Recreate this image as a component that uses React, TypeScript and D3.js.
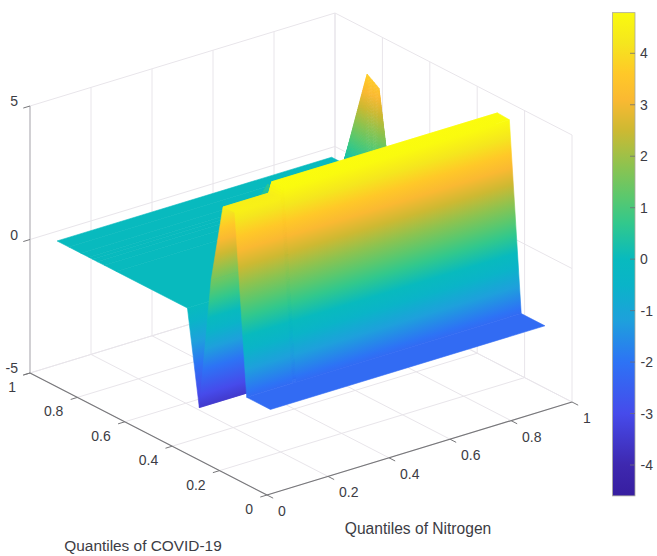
import React from "react";
import * as d3 from "d3";

const W = 657;
const H = 556;

// Surface sampled on these quantiles
const nitrogenNodes = [0.05, 0.2, 0.21, 0.6, 0.637, 0.68, 0.945, 0.95];
const covidNodes = [0.05, 0.15, 0.2, 0.25, 0.3, 0.35, 0.4, 0.7, 0.75, 0.78, 0.8, 0.816, 0.85, 0.9, 0.95];
const surfaceZ = [
  [-2.2, -2.2, -2.2, -2.2, -2.2, -2.2, -2.2, -2.2],
  [-2.2, -2.2, -2.2, -2.2, -2.2, -2.2, -2.2, -2.2],
  [4.5, 4.5, 4.83, 4.83, 4.83, 4.83, 4.83, 4.83],
  [4.47, 4.47, 4.86, 4.86, 4.86, 4.86, 4.86, 4.86],
  [1.5, 1.5, 1.2, 1.2, 1.2, 1.2, 1.2, 1.2],
  [-3.5, -3.5, -3.5, -3.5, -3.5, -3.5, -3.5, -3.5],
  [0, 0, 0, 0, 0, 0, 0, 0],
  [0, 0, 0, 0, 0, 0, 0, 0],
  [0, 0, 0, 0, 0, 0, 0, 3.5],
  [0, 0, 0, 0, 0, 0, 0, 3.68],
  [0, 0, 0, 0, 0, 0, 0, 3.8],
  [0, 0, 0, 0, 0.7, 0, 0, 3.2],
  [0, 0, 0, 0, 0, 0, 0, 1.9],
  [0, 0, 0, 0, 0, 0, 0, 0],
  [0, 0, 0, 0, 0, 0, 0, 0],
];

const horizontalTicks = [0, 0.2, 0.4, 0.6, 0.8, 1];
const zTicks = [-5, 0, 5];
const colorbarTicks = [4, 3, 2, 1, 0, -1, -2, -3, -4];
const colorbarRange = [-4.6, 4.79];
const colorStopValues = [-4.6, -4, -3, -2, -1.2, -0.5, 0, 0.7, 1.2, 1.8, 2.5, 3.1, 3.6, 4.2, 4.8];
const colorStops = [
  "#371ea0", "#3e28af", "#464beb", "#2d73f5", "#1ea0dc", "#0ab4c8", "#08babe", "#32c88c",
  "#5ac86e", "#8cc350", "#cdb932", "#fab932", "#ffc828", "#f5e61e", "#fafa0f",
];

const color = d3.scaleLinear<string>().domain(colorStopValues).range(colorStops).interpolate(d3.interpolateRgb);

// Axonometric projection
const pxX = d3.scaleLinear().domain([0, 1]).range([0, 305]);
const pxY = d3.scaleLinear().domain([0, 1]).range([0, -237]);
const pyX = d3.scaleLinear().domain([0, 1]).range([0, -93]);
const pyY = d3.scaleLinear().domain([0, 1]).range([0, -122]);
const pyZ = d3.scaleLinear().domain([-5, 5]).range([0, -267]);
const ORIGIN = [267, 495];
const project = (x: number, y: number, z: number): [number, number] => [
  ORIGIN[0] + pxX(x) + pxY(y),
  ORIGIN[1] + pyX(x) + pyY(y) + pyZ(z),
];
const barY = d3.scaleLinear().domain([-4, 4]).range([465, 53.3]);

type Gradient = { id: string; x1: number; y1: number; x2: number; y2: number; stops: { offset: number; color: string }[] };
type Poly = { pts: string; fill: string };

function buildSurface(): { polys: Poly[]; gradients: Gradient[] } {
  const polys: Poly[] = [];
  const gradients: Gradient[] = [];
  const str = (p: [number, number][]) => p.map((q) => q.map((v) => v.toFixed(2)).join(",")).join(" ");
  for (let j = covidNodes.length - 2; j >= 0; j--) {
    for (let i = nitrogenNodes.length - 2; i >= 0; i--) {
      const z10 = surfaceZ[j][i + 1], z11 = surfaceZ[j + 1][i + 1];
      let z00 = surfaceZ[j][i], z01 = surfaceZ[j + 1][i];
      const x1 = nitrogenNodes[i + 1], y0 = covidNodes[j], y1 = covidNodes[j + 1];

      if (z00 === z10 && z01 === z11) {
        // merge neighbouring columns with the same profile, so no seams show
        while (i > 0 && surfaceZ[j][i - 1] === z00 && surfaceZ[j + 1][i - 1] === z01) i--;
        const x0 = nitrogenNodes[i];
        const pts = str([project(x0, y0, z00), project(x1, y0, z10), project(x1, y1, z11), project(x0, y1, z01)]);
        if (z00 === z01) {
          polys.push({ pts, fill: color(z00) });
          continue;
        }
        const a = project(x0, y0, z00);
        const b = project(x0, y1, z01);
        const ex = pxX(1), ey = pyX(1);
        const len = Math.hypot(ex, ey);
        const ux = ex / len, uy = ey / len;
        const vx = b[0] - a[0], vy = b[1] - a[1];
        const along = vx * ux + vy * uy;
        const gx = vx - along * ux, gy = vy - along * uy;
        const lo = Math.min(z00, z01), hi = Math.max(z00, z01);
        const values = [z00, ...colorStopValues.filter((v) => v > lo && v < hi), z01].sort((p, q) =>
          z00 < z01 ? p - q : q - p
        );
        const id = `cell-${j}-${i}`;
        gradients.push({
          id,
          x1: a[0],
          y1: a[1],
          x2: a[0] + gx,
          y2: a[1] + gy,
          stops: values.map((v) => ({ offset: (v - z00) / (z01 - z00), color: color(v) })),
        });
        polys.push({ pts, fill: `url(#${id})` });
        continue;
      }

      const x0 = nitrogenNodes[i];
      const nX = Math.max(1, Math.ceil(Math.max(Math.abs(z10 - z00), Math.abs(z11 - z01)) * 8));
      const nY = Math.max(1, Math.ceil(Math.max(Math.abs(z01 - z00), Math.abs(z11 - z10)) * 12));
      const at = (u: number, v: number): [number, number, number] => [
        x0 + (x1 - x0) * u,
        y0 + (y1 - y0) * v,
        z00 * (1 - u) * (1 - v) + z10 * u * (1 - v) + z01 * (1 - u) * v + z11 * u * v,
      ];
      for (let b = nY - 1; b >= 0; b--) {
        for (let a = nX - 1; a >= 0; a--) {
          const u0 = a / nX, u1 = (a + 1) / nX, v0 = b / nY, v1 = (b + 1) / nY;
          const corners = [at(u0, v0), at(u1, v0), at(u1, v1), at(u0, v1)];
          const mid = at((u0 + u1) / 2, (v0 + v1) / 2);
          polys.push({ pts: str(corners.map((c) => project(c[0], c[1], c[2]))), fill: color(mid[2]) });
        }
      }
    }
  }
  return { polys, gradients };
}

const GRID = "#e8e5ea";
const FONT = "'Liberation Sans', Arial, sans-serif";
const TEXT = "#3c3c44";

function Line({ a, b, stroke, w = 1 }: { a: number[]; b: number[]; stroke: string; w?: number }) {
  const p = project(a[0], a[1], a[2]);
  const q = project(b[0], b[1], b[2]);
  return <line x1={p[0]} y1={p[1]} x2={q[0]} y2={q[1]} stroke={stroke} strokeWidth={w} />;
}

export default function App() {
  const { polys, gradients } = buildSurface();
  return (
    <svg width={W} height={H} style={{ position: "absolute", left: 0, top: 0, display: "block" }} fontFamily={FONT}>
      <defs>
        <linearGradient id="bar" x1="0" y1="1" x2="0" y2="0">
          {colorStopValues.map((v, i) => (
            <stop
              key={i}
              offset={(v - colorbarRange[0]) / (colorbarRange[1] - colorbarRange[0])}
              stopColor={colorStops[i]}
            />
          ))}
        </linearGradient>
        {gradients.map((g) => (
          <linearGradient key={g.id} id={g.id} gradientUnits="userSpaceOnUse" x1={g.x1} y1={g.y1} x2={g.x2} y2={g.y2}>
            {g.stops.map((s, k) => (
              <stop key={k} offset={s.offset} stopColor={s.color} />
            ))}
          </linearGradient>
        ))}
      </defs>
      <rect width={W} height={H} fill="#fff" />

      {/* box grid */}
      {horizontalTicks.map((t) => (
        <g key={t}>
          <Line a={[t, 0, -5]} b={[t, 1, -5]} stroke={GRID} />
          <Line a={[0, t, -5]} b={[1, t, -5]} stroke={GRID} />
          <Line a={[t, 1, -5]} b={[t, 1, 5]} stroke={GRID} />
          <Line a={[1, t, -5]} b={[1, t, 5]} stroke={GRID} />
        </g>
      ))}
      {zTicks.map((z) => (
        <g key={z}>
          <Line a={[0, 1, z]} b={[1, 1, z]} stroke={GRID} />
          <Line a={[1, 1, z]} b={[1, 0, z]} stroke={GRID} />
        </g>
      ))}

      {/* surface */}
      {polys.map((p, i) => (
        <polygon key={i} points={p.pts} fill={p.fill} stroke={p.fill} strokeWidth={0.6} strokeLinejoin="round" />
      ))}

      {/* axes */}
      <Line a={[0, 1, -5]} b={[0, 1, 5]} stroke="#b4b4b8" w={1.1} />
      <Line a={[0, 0, -5]} b={[1, 0, -5]} stroke="#77777a" w={1.2} />
      <Line a={[0, 0, -5]} b={[0, 1, -5]} stroke="#77777a" w={1.2} />
      {horizontalTicks.map((t) => (
        <g key={t}>
          <Line a={[t, 0, -5]} b={[t, -0.026, -5]} stroke="#77777a" />
          <Line a={[0, t, -5]} b={[-0.022, t, -5]} stroke="#77777a" />
          <text
            x={project(t, 0, -5)[0] + 11}
            y={project(t, 0, -5)[1] + 21}
            fontSize={14}
            fill={TEXT}
          >
            {t}
          </text>
          <text
            x={project(0, t, -5)[0] - 14}
            y={project(0, t, -5)[1] + 19}
            fontSize={14}
            fill={TEXT}
            textAnchor="end"
          >
            {t}
          </text>
        </g>
      ))}
      {zTicks.map((z) => (
        <g key={z}>
          <Line a={[0, 1, z]} b={[-0.022, 1, z]} stroke="#77777a" />
          <text x={18} y={project(0, 1, z)[1]} fontSize={14} fill={TEXT} textAnchor="end">
            {z}
          </text>
        </g>
      ))}
      <text x={143} y={551} fontSize={15.4} fill={TEXT} textAnchor="middle">
        Quantiles of COVID-19
      </text>
      <text x={418} y={534} fontSize={15.6} fill={TEXT} textAnchor="middle">
        Quantiles of Nitrogen
      </text>

      {/* colorbar */}
      <rect
        x={612.5}
        y={barY(colorbarRange[1])}
        width={22.5}
        height={barY(colorbarRange[0]) - barY(colorbarRange[1])}
        fill="url(#bar)"
        stroke="#a9a89c"
        strokeWidth={0.8}
      />
      {colorbarTicks.map((t) => (
        <g key={t}>
          <line x1={630} x2={635} y1={barY(t)} y2={barY(t)} stroke="#6e6e78" strokeWidth={0.8} />
          <text x={t < 0 ? 640.5 : 640} y={barY(t) + 5} fontSize={14} fill={TEXT}>
            {t}
          </text>
        </g>
      ))}
    </svg>
  );
}
